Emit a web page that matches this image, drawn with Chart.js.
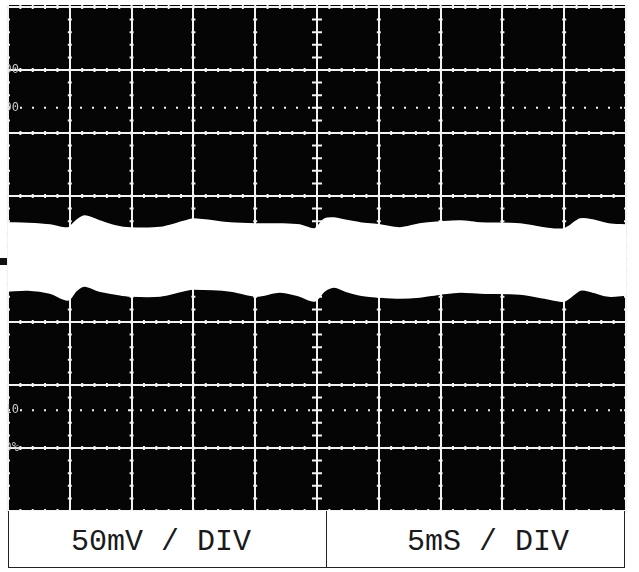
<!DOCTYPE html>
<html>
<head>
<meta charset="utf-8">
<script src="https://cdn.jsdelivr.net/npm/chart.js@4/dist/chart.umd.min.js"></script>
<style>
  html, body { margin: 0; padding: 0; background: #fff; }
  #wrap { position: relative; width: 639px; height: 572px; overflow: hidden; }
  #scope { position: absolute; left: 0; top: 0; }
  .strip { position: absolute; left: 8px; top: 511px; width: 615px; height: 56px; border: 1px solid #222; border-top: none; background: #fff; }
  .divider { position: absolute; left: 317px; top: 0; width: 1px; height: 56px; background: #222; }
  .lbl { position: absolute; top: 16px; font: 30px "Liberation Mono", monospace; line-height: 30px; color: #1a1a1a; white-space: pre; }
</style>
</head>
<body>
<div id="wrap">
  <canvas id="scope" width="639" height="572"></canvas>
  <div class="strip">
    <div class="divider"></div>
    <span class="lbl" id="voltLbl" style="left:62px"></span>
    <span class="lbl" id="timeLbl" style="left:398px"></span>
  </div>
</div>
<script>
// time axis (ms) and the two edges of the thick noisy trace (mV)
const timeMs  = [0, 1.6, 3.4, 4.85, 5.5, 6.2, 7.4, 8.7, 9.9, 12.3, 14.2, 15.0, 18.0, 20.1, 22.0, 23.6, 24.8, 25.6, 26.4, 27.3, 28.5, 30.1, 31.7, 33.3, 35.0, 36.6, 38.2, 41.4, 43.4, 45.0, 46.3, 47.3, 48.6, 50];
const upperMv = [28.4, 28, 26.8, 24.4, 30, 33.9, 30.0, 26.0, 24.4, 24.8, 29.5, 31.5, 28.4, 27.6, 27.6, 26.8, 23.7, 31.5, 32.3, 30.5, 28.4, 26.8, 24.4, 27.6, 29.2, 30.0, 28.4, 27.6, 24.4, 23.7, 31.5, 30.8, 27.6, 26.8];
const lowerMv = [-25.2, -24.4, -26.8, -32.3, -25, -21.3, -25.2, -27.5, -29.2, -29.2, -25, -23.7, -25.2, -29.2, -26.0, -29.2, -33.1, -25.2, -22.1, -25.2, -28.4, -30.0, -30.8, -30.0, -27.6, -26.0, -26.8, -27.6, -30.8, -33.1, -24.4, -26.0, -29.2, -28.4];

// graticule: 10 x 8 divisions, 5 ms / 50 mV each
const xTicks = [0, 5, 10, 15, 20, 25, 30, 35, 40, 45, 50];
const yTicks = [-200, -150, -100, -50, 0, 50, 100, 150, 200];
const dottedLevels = [120, -120];
const graticuleLevels = [150, 120, -120, -150];
const graticuleLabels = ["100", "90", "10", "0%"];
const stripLabels = ["50mV / DIV", "5mS / DIV"];

document.getElementById("voltLbl").textContent = stripLabels[0];
document.getElementById("timeLbl").textContent = stripLabels[1];

const screen = "#f2f2f2";

const scopePlugin = {
  id: "scope",
  beforeDraw(chart) {
    const { ctx, chartArea: a } = chart;
    ctx.save();
    ctx.fillStyle = "#050505";
    ctx.fillRect(a.left - 1, a.top - 2, a.right - a.left + 2, a.bottom - a.top + 2);
    ctx.restore();
  },
  beforeDatasetsDraw(chart) {
    const { ctx, chartArea: a, scales: { x, y } } = chart;
    const xMinor = (xTicks[1] - xTicks[0]) / 5;
    const yMinor = (yTicks[1] - yTicks[0]) / 5;
    const xMid = xTicks[xTicks.length >> 1];
    const yMid = yTicks[yTicks.length >> 1];
    ctx.save();
    ctx.strokeStyle = screen;
    ctx.lineWidth = 2;
    ctx.beginPath();
    xTicks.forEach(xv => {
      const px = x.getPixelForValue(xv);
      const len = xv === xMid ? 5 : 2;
      for (let v = yTicks[0]; v <= yTicks[yTicks.length - 1]; v += yMinor) {
        const py = y.getPixelForValue(v);
        ctx.moveTo(px - len, py); ctx.lineTo(px + len, py);
      }
    });
    yTicks.forEach(yv => {
      const py = y.getPixelForValue(yv);
      const len = yv === yMid ? 5 : 2;
      for (let v = xTicks[0]; v <= xTicks[xTicks.length - 1]; v += xMinor) {
        const px = x.getPixelForValue(v);
        ctx.moveTo(px, py - len); ctx.lineTo(px, py + len);
      }
    });
    ctx.stroke();

    // dotted reference lines
    ctx.setLineDash([2, 10]);
    ctx.beginPath();
    dottedLevels.forEach(lv => {
      const py = y.getPixelForValue(lv);
      ctx.moveTo(a.left, py); ctx.lineTo(a.right, py);
    });
    ctx.stroke();
    ctx.setLineDash([]);

    // percentage labels, mostly cut off by the left edge of the screen
    ctx.beginPath();
    ctx.rect(a.left, a.top, a.right - a.left, a.bottom - a.top);
    ctx.clip();
    ctx.fillStyle = "#c8c8c8";
    ctx.font = '12px "DejaVu Sans Mono"';
    ctx.textAlign = "right";
    ctx.textBaseline = "middle";
    graticuleLevels.forEach((lv, i) => ctx.fillText(graticuleLabels[i], a.left + 11, y.getPixelForValue(lv)));
    ctx.restore();
  },
  afterDraw(chart) {
    const { ctx, chartArea: a, scales: { y } } = chart;
    ctx.save();
    ctx.fillStyle = "#111";
    ctx.fillRect(0, y.getPixelForValue(0) - 1, a.left - 1, 7);
    ctx.restore();
  }
};

const axis = (min, max, ticks) => ({
  type: "linear",
  min, max,
  afterBuildTicks: s => { s.ticks = ticks.map(v => ({ value: v })); },
  ticks: { display: false },
  grid: { color: screen, lineWidth: 2, drawTicks: false },
  border: { display: true, color: screen, width: 2 }
});

new Chart(document.getElementById("scope"), {
  type: "line",
  data: {
    datasets: [
      { data: timeMs.map((t, i) => ({ x: t, y: upperMv[i] })), fill: "+1", backgroundColor: "#fff", borderColor: "#fff", borderWidth: 2, pointRadius: 0, tension: 0.3 },
      { data: timeMs.map((t, i) => ({ x: t, y: lowerMv[i] })), fill: false, borderColor: "#fff", borderWidth: 2, pointRadius: 0, tension: 0.3 }
    ]
  },
  options: {
    responsive: false,
    animation: false,
    layout: { padding: { left: 8, top: 7, right: 13, bottom: 61 } },
    plugins: { legend: { display: false }, tooltip: { enabled: false } },
    scales: {
      x: axis(xTicks[0], xTicks[xTicks.length - 1], xTicks),
      y: axis(yTicks[0], yTicks[yTicks.length - 1], yTicks)
    }
  },
  plugins: [scopePlugin]
});
</script>
</body>
</html>
